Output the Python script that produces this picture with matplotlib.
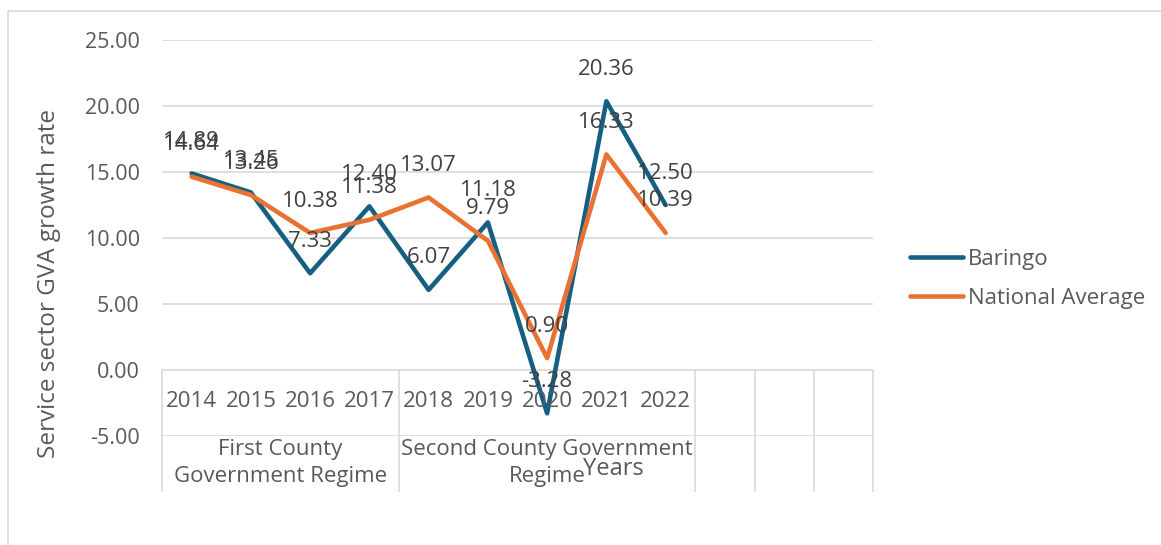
import numpy as np
import matplotlib
matplotlib.use("Agg")
import matplotlib.pyplot as plt
from matplotlib.patches import Rectangle

# data
years = ["2014", "2015", "2016", "2017", "2018", "2019", "2020", "2021", "2022"]
baringo = [14.89, 13.45, 7.33, 12.40, 6.07, 11.18, -3.28, 20.36, 12.50]
national = [14.64, 13.26, 10.38, 11.38, 13.07, 9.79, 0.90, 16.33, 10.39]
regimes = ["First County\nGovernment Regime", "Second County Government\nRegime"]
regime_spans = [(0, 4), (4, 9)]
n_slots = 12  # 9 years + 3 empty categories

plt.rcParams['font.family'] = ['Open Sans', 'DejaVu Sans']
txt = '#404040'
lab = '#595959'
grid_c = '#d9d9d9'
c_bar = '#156082'
c_nat = '#e97132'

fig = plt.figure(figsize=(11.61, 5.45), dpi=100)
W, H = 1161, 545
ax = fig.add_axes([162 / W, 1 - 436 / H, (873 - 162) / W, (436 - 40) / H])

x = np.arange(len(years)) + 0.5
ax.plot(x, baringo, color=c_bar, lw=3.3, solid_joinstyle='round', solid_capstyle='round', label='Baringo', zorder=3)
ax.plot(x, national, color=c_nat, lw=3.3, solid_joinstyle='round', solid_capstyle='round', label='National Average', zorder=3)

for xi, v in zip(x, baringo):
    ax.annotate(f"{v:.2f}", (xi, v), xytext=(0, 23), textcoords='offset points',
                ha='center', va='center', fontsize=16, color=txt, zorder=4, annotation_clip=False)
for xi, v in zip(x, national):
    ax.annotate(f"{v:.2f}", (xi, v), xytext=(0, 23), textcoords='offset points',
                ha='center', va='center', fontsize=16, color=txt, zorder=4, annotation_clip=False)

ax.set_xlim(0, n_slots)
ax.set_ylim(-5, 25)
ax.set_yticks(np.arange(-5, 26, 5))
ax.set_yticklabels([f"{t:.2f}" for t in np.arange(-5, 26, 5)], fontsize=15.5, color=lab)
ax.tick_params(axis='y', length=0, pad=16)
ax.set_xticks([])
for s in ax.spines.values():
    s.set_visible(False)
ax.yaxis.grid(True, color=grid_c, lw=1.2)
ax.set_axisbelow(True)

# multi-level category axis
y_bottom = -9.2
for b in [0, 4, 9, 10, 11, 12]:
    ax.plot([b, b], [0, y_bottom], color=grid_c, lw=1.2, clip_on=False, zorder=1)
for xi, yr in zip(x, years):
    ax.text(xi, -2.35, yr, ha='center', va='center', fontsize=16, color=lab)
for (a, b), name in zip(regime_spans, regimes):
    ax.text((a + b) / 2, -7.05, name, ha='center', va='center', fontsize=16,
            color=lab, linespacing=1.4)

ax.set_ylabel("Service sector GVA growth rate", fontsize=17.5, color=lab)
ax.yaxis.set_label_coords(-101 / (873 - 162), 0.386)
fig.text(613 / W, 1 - 469 / H, "Years", ha='center', va='center', fontsize=17, color=lab)

leg = ax.legend(loc='center left', bbox_to_anchor=(910 / W, 1 - 279 / H), bbox_transform=fig.transFigure,
                frameon=False, fontsize=16, handlelength=2.4, handletextpad=0.2,
                labelspacing=0.8, borderpad=0, borderaxespad=0)
for t in leg.get_texts():
    t.set_color(lab)

fig.add_artist(Rectangle((8 / W, -0.05), 1.1, 1 - 11 / H + 0.05, transform=fig.transFigure,
                         fill=False, edgecolor=grid_c, lw=1.2))

fig.savefig("out.png", dpi=100)
